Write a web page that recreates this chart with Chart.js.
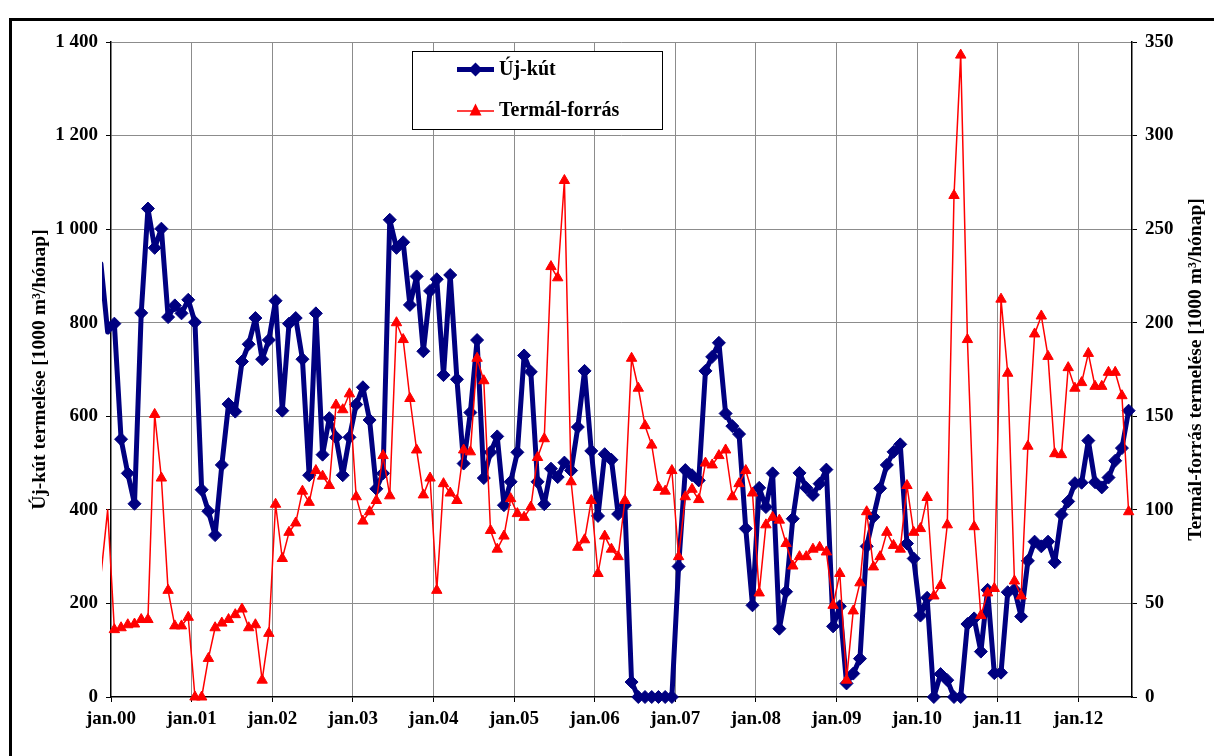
<!DOCTYPE html>
<html lang="hu">
<head>
<meta charset="UTF-8">
<title>Új-kút és Termál-forrás termelése</title>
<script src="https://cdn.jsdelivr.net/npm/chart.js@4"></script>
<style>
    html, body { margin: 0; padding: 0; background: #fff; }
    #wrap { width: 1214px; height: 756px; position: relative; }
</style>
</head>
<body>
<div id="wrap"><canvas id="grafico"></canvas></div>

<script>
    // havi adatok 1999. nov.-tól 2012. aug.-ig (0 = jan.00)
    const elsoHonap = -2;

    // Új-kút termelése [1000 m3/hónap]
    const ujKut = [
        926, 780,
        798, 551, 478, 413, 821, 1044, 960, 1001, 812, 837, 820, 849,
        801, 443, 397, 346, 496, 626, 610, 717, 754, 810, 722, 763,
        847, 612, 798, 810, 722, 474, 820, 518, 596, 555, 474, 555,
        625, 662, 592, 445, 478, 1020, 960, 972, 838, 899, 739, 868,
        893, 688, 902, 679, 499, 608, 763, 468, 523, 557, 410, 460,
        523, 730, 695, 460, 412, 488, 470, 501, 484, 577, 697, 526,
        387, 519, 507, 391, 410, 32, 0, 0, 0, 0, 0, 0,
        279, 485, 474, 463, 697, 727, 757, 606, 579, 562, 360, 196,
        447, 406, 478, 146, 225, 381, 479, 447, 432, 456, 486, 151,
        194, 29, 50, 82, 322, 385, 446, 496, 524, 540, 328, 296,
        174, 212, 0, 49, 36, 0, 0, 156, 168, 97, 229, 51,
        52, 224, 230, 172, 291, 332, 322, 332, 288, 390, 418, 457,
        458, 548, 459, 448, 469, 505, 532, 612
    ];

    // Termál-forrás termelése [1000 m3/hónap]
    const termal = [
        65, 100,
        36, 37, 38.6, 39, 41.4, 41.4, 151, 117, 57, 38, 38, 42.6,
        0, 0, 20.6, 37, 39.5, 41.4, 44, 47, 37, 38.6, 9, 34,
        103, 74, 88, 93, 110, 104, 121, 118, 113, 156, 153.5, 162,
        107, 94, 99, 105, 129, 107.5, 200, 191, 159.5, 132, 108, 117,
        57, 114, 109, 105, 132, 131, 181, 169, 89, 79, 86, 106,
        98, 96, 101.5, 128, 138, 230, 224, 276, 115, 80, 84, 105,
        66, 86, 79, 75, 105, 181, 165, 145, 134.6, 112, 110, 121,
        75, 107, 111, 105.5, 125, 124, 129, 132, 107, 114, 121, 109,
        55.6, 92, 96, 94.5, 82, 70, 75, 75, 79, 80, 77.5, 49,
        66, 9, 46, 61, 99, 69.5, 75, 88, 81, 79, 113, 88,
        90, 106.6, 54, 59.6, 92, 268, 343, 191, 91, 43.5, 55.6, 58,
        212.6, 173, 62, 54, 134, 194, 203.6, 182, 130, 129.5, 176, 165,
        168, 183.6, 166, 166, 173.5, 173.5, 161, 99
    ];

    const evCimkek = ['jan.00', 'jan.01', 'jan.02', 'jan.03', 'jan.04', 'jan.05', 'jan.06',
                      'jan.07', 'jan.08', 'jan.09', 'jan.10', 'jan.11', 'jan.12'];
    const evTickek = [0, 12, 24, 36, 48, 60, 72, 84, 96, 108, 120, 132, 144];
    const balTickek = [0, 200, 400, 600, 800, 1000, 1200, 1400];
    const balCimkek = ['0', '200', '400', '600', '800', '1 000', '1 200', '1 400'];
    const jobbTickek = [0, 50, 100, 150, 200, 250, 300, 350];
    const jobbCimkek = ['0', '50', '100', '150', '200', '250', '300', '350'];

    const balCim = 'Új-kút termelése [1000 m³/hónap]';
    const jobbCim = 'Termál-forrás termelése [1000 m³/hónap]';

    const KEK = '#000080';
    const PIROS = '#ff0000';
    const RACS = '#8c8c8c';
    const BETU = '"Liberation Serif", "Times New Roman", serif';
    const tickFont = { family: BETU, size: 19, weight: 'bold' };

    // pont a hónap közepére kerül
    const pontok = arr => arr.map((v, i) => ({ x: elsoHonap + i + 0.5, y: v }));
    const rejtettSugar = r => c => (c.raw && c.raw.x < 0) ? 0 : r;

    const keret = {
        id: 'keret',
        beforeDraw(chart) {
            const ctx = chart.ctx;
            ctx.save();
            ctx.fillStyle = '#fff';
            ctx.fillRect(0, 0, chart.width, chart.height);
            ctx.strokeStyle = '#000';
            ctx.lineWidth = 3;
            ctx.strokeRect(10.5, 19.5, 1400, 1000);
            ctx.restore();
        }
    };

    const tengelyCimek = {
        id: 'tengelyCimek',
        afterDraw(chart) {
            const { ctx, chartArea } = chart;
            const cy = (chartArea.top + chartArea.bottom) / 2;
            ctx.save();
            ctx.font = 'bold 19.5px ' + BETU;
            ctx.fillStyle = '#000';
            ctx.textAlign = 'center';
            ctx.textBaseline = 'middle';
            [[40, balCim], [1196, jobbCim]].forEach(([x, t]) => {
                ctx.save();
                ctx.translate(x, cy);
                ctx.rotate(-Math.PI / 2);
                ctx.fillText(t, 0, 0);
                ctx.restore();
            });
            ctx.restore();
        }
    };

    const jelmagyarazat = {
        id: 'jelmagyarazat',
        afterDraw(chart) {
            const ctx = chart.ctx;
            ctx.save();
            ctx.fillStyle = '#fff';
            ctx.fillRect(412.5, 51.5, 250, 78);
            ctx.strokeStyle = '#000';
            ctx.lineWidth = 1;
            ctx.strokeRect(412.5, 51.5, 250, 78);

            // Új-kút
            ctx.strokeStyle = KEK;
            ctx.lineWidth = 5;
            ctx.beginPath(); ctx.moveTo(457, 69.5); ctx.lineTo(494, 69.5); ctx.stroke();
            ctx.fillStyle = KEK;
            ctx.beginPath();
            ctx.moveTo(475.5, 62.5); ctx.lineTo(482.5, 69.5); ctx.lineTo(475.5, 76.5); ctx.lineTo(468.5, 69.5);
            ctx.closePath(); ctx.fill();

            // Termál-forrás
            ctx.strokeStyle = PIROS;
            ctx.lineWidth = 1.5;
            ctx.beginPath(); ctx.moveTo(457, 111); ctx.lineTo(494, 111); ctx.stroke();
            ctx.fillStyle = PIROS;
            ctx.beginPath();
            ctx.moveTo(475.5, 103.5); ctx.lineTo(481.5, 115.5); ctx.lineTo(469.5, 115.5);
            ctx.closePath(); ctx.fill();

            ctx.fillStyle = '#000';
            ctx.font = 'bold 20px ' + BETU;
            ctx.textBaseline = 'middle';
            ctx.fillText('Új-kút', 499, 70);
            ctx.fillText('Termál-forrás', 499, 111);
            ctx.restore();
        }
    };

    const ctx = document.getElementById('grafico').getContext('2d');
    new Chart(ctx, {
        type: 'line',
        data: {
            datasets: [
                {
                    label: 'Új-kút',
                    data: pontok(ujKut),
                    yAxisID: 'y',
                    order: 1,
                    borderColor: KEK,
                    backgroundColor: KEK,
                    borderWidth: 5,
                    borderJoinStyle: 'round',
                    borderCapStyle: 'round',
                    pointStyle: 'rectRot',
                    pointRadius: rejtettSugar(6.5),
                    pointBorderWidth: 1,
                    pointHoverRadius: rejtettSugar(6.5),
                    tension: 0,
                    clip: { left: 9, top: 0, right: 8, bottom: 8 }
                },
                {
                    label: 'Termál-forrás',
                    data: pontok(termal),
                    yAxisID: 'y1',
                    order: 0,
                    borderColor: PIROS,
                    backgroundColor: PIROS,
                    borderWidth: 1.5,
                    borderJoinStyle: 'round',
                    pointStyle: 'triangle',
                    pointRadius: rejtettSugar(6),
                    pointBorderWidth: 1,
                    pointHoverRadius: rejtettSugar(6),
                    tension: 0,
                    clip: { left: 9, top: 0, right: 8, bottom: 8 }
                }
            ]
        },
        options: {
            responsive: true,
            maintainAspectRatio: false,
            animation: false,
            layout: { padding: { top: 42, left: 0, right: 0, bottom: 0 } },
            plugins: {
                legend: { display: false },
                tooltip: { enabled: false }
            },
            scales: {
                x: {
                    type: 'linear',
                    bounds: 'data',
                    // a tengely jan.00 és szept.12 között; a korábbi pontok levágva
                    afterDataLimits: s => { s.min = 0; s.max = 152; },
                    afterBuildTicks: s => { s.ticks = evTickek.map(v => ({ value: v })); },
                    afterFit: s => { s.height = 59; },
                    ticks: {
                        callback: v => evCimkek[evTickek.indexOf(v)],
                        font: tickFont,
                        color: '#000',
                        padding: 6,
                        maxRotation: 0,
                        autoSkip: false
                    },
                    grid: {
                        color: c => (c.tick && c.tick.value === 0) ? 'rgba(0,0,0,0)' : RACS,
                        tickColor: '#000',
                        tickLength: 5
                    },
                    border: { color: '#000', width: 1.5 }
                },
                y: {
                    position: 'left',
                    min: 0,
                    max: 1400,
                    afterBuildTicks: s => { s.ticks = balTickek.map(v => ({ value: v })); },
                    afterFit: s => { s.width = 111; },
                    ticks: {
                        callback: v => balCimkek[balTickek.indexOf(v)],
                        font: tickFont,
                        color: '#000',
                        padding: 8
                    },
                    grid: {
                        color: c => (c.tick && c.tick.value === 0) ? 'rgba(0,0,0,0)' : RACS,
                        tickColor: '#000',
                        tickLength: 5
                    },
                    border: { color: '#000', width: 1.5 }
                },
                y1: {
                    position: 'right',
                    min: 0,
                    max: 350,
                    afterBuildTicks: s => { s.ticks = jobbTickek.map(v => ({ value: v })); },
                    afterFit: s => { s.width = 82; },
                    ticks: {
                        callback: v => jobbCimkek[jobbTickek.indexOf(v)],
                        font: tickFont,
                        color: '#000',
                        padding: 8
                    },
                    grid: {
                        drawOnChartArea: false,
                        color: '#000',
                        tickColor: '#000',
                        tickLength: 5
                    },
                    border: { color: '#000', width: 1.5 }
                }
            }
        },
        plugins: [keret, tengelyCimek, jelmagyarazat]
    });
</script>
</body>
</html>
